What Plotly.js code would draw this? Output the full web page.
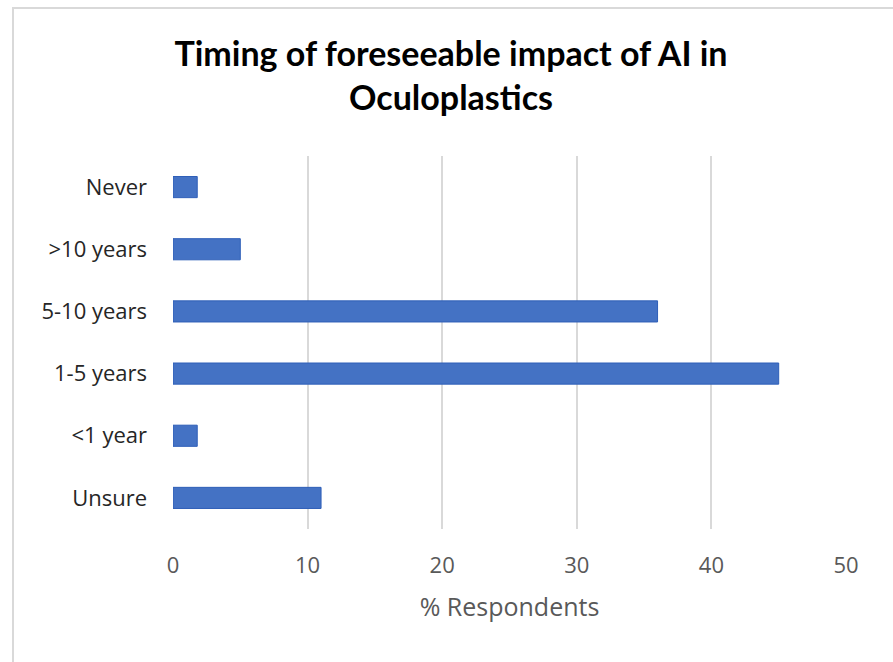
<!DOCTYPE html>
<html>
<head>
<meta charset="utf-8">
<script src="https://cdn.plot.ly/plotly-3.0.1.min.js"></script>
<style>
  html, body { margin: 0; padding: 0; background: #fff; }
  #wrap { position: relative; width: 893px; height: 662px; overflow: hidden; }
  #frame { position: absolute; left: 12px; top: 7px; width: 900px; height: 700px;
           border-left: 2px solid #d9d9d9; border-top: 2px solid #d9d9d9; pointer-events: none; }
  #chart { position: absolute; left: 0; top: 0; width: 893px; height: 662px; }
</style>
</head>
<body>
<div id="wrap">
  <div id="chart"></div>
  <div id="frame"></div>
</div>
<script>
const categories = ["Unsure", "<1 year", "1-5 years", "5-10 years", ">10 years", "Never"];
const percentRespondents = [11, 1.8, 45, 36, 5, 1.8];
const xTickValues = [0, 10, 20, 30, 40, 50];

const trace = {
  type: "bar",
  orientation: "h",
  y: categories,
  x: percentRespondents,
  marker: { color: "#4472C4", line: { color: "#2F5FB8", width: 1 } },
  hoverinfo: "x+y"
};

const layout = {
  width: 893,
  height: 662,
  paper_bgcolor: "#ffffff",
  plot_bgcolor: "#ffffff",
  margin: { l: 173, r: 47, t: 156, b: 133 },
  bargap: 0.66,
  showlegend: false,
  title: {
    text: "<b>Timing of foreseeable impact of AI in<br>Oculoplastics</b>",
    font: { family: "Lato, 'Open Sans', sans-serif", size: 34, color: "#000000" },
    x: 451 / 893,
    xref: "container",
    xanchor: "center",
    yref: "container",
    y: 1 - 66 / 662,
    yanchor: "top"
  },
  xaxis: {
    range: [0, 50],
    tickvals: xTickValues,
    ticktext: xTickValues.map(String),
    showgrid: true,
    gridcolor: "#d9d9d9",
    gridwidth: 2,
    zeroline: false,
    showline: false,
    ticks: "",
    ticklabelstandoff: 21,
    tickfont: { family: "'Open Sans', sans-serif", size: 22, color: "#595959" },
    title: {
      text: "% Respondents",
      font: { family: "'Open Sans', sans-serif", size: 25, color: "#595959" },
      standoff: 20
    },
    fixedrange: true
  },
  yaxis: {
    type: "category",
    categoryorder: "array",
    categoryarray: categories,
    showgrid: false,
    zeroline: false,
    showline: false,
    ticks: "",
    ticklabelstandoff: 25,
    tickfont: { family: "'Open Sans', sans-serif", size: 22, color: "#262626" },
    fixedrange: true
  }
};

Plotly.newPlot("chart", [trace], layout, { displayModeBar: false, staticPlot: true });
</script>
</body>
</html>
